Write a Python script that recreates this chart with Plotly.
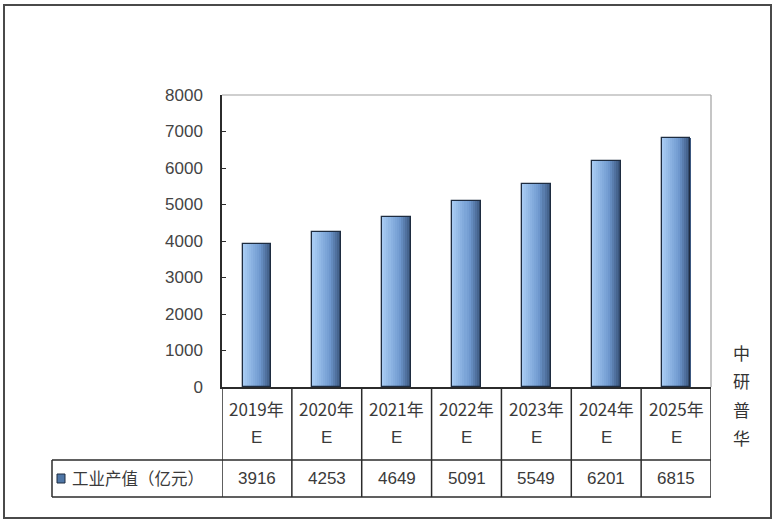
import plotly.graph_objects as go

# data
years = ["2019年", "2020年", "2021年", "2022年", "2023年", "2024年", "2025年"]
suffix = ["E", "E", "E", "E", "E", "E", "E"]
output_value = [3916, 4253, 4649, 5091, 5549, 6201, 6815]
series_name = "工业产值（亿元）"
watermark = ["中", "研", "普", "华"]

FONT = "Liberation Sans, Arial, Noto Sans CJK SC, sans-serif"
CJK = "Noto Sans CJK SC, Liberation Sans, sans-serif"

# plot area in pixels (for converting table positions to paper coords)
L, T, R, B = 222, 95, 711, 387
PW, PH = R - L, B - T


def px_x(x):
    return (x - L) / PW


def px_y(y):
    return (B - y) / PH


def mix(c1, c2, t):
    return "#%02x%02x%02x" % tuple(round(a + (b - a) * t) for a, b in zip(c1, c2))


x_pos = list(range(len(years)))
fig = go.Figure()

# gradient bars: thin slices from light (left) to dark (right)
bar_w = 0.41
n_slices = 14
light, mid, dark = (166, 202, 242), (112, 154, 208), (60, 88, 128)
for k in range(n_slices):
    t = k / (n_slices - 1)
    col = mix(light, mid, t / 0.6) if t < 0.6 else mix(mid, dark, (t - 0.6) / 0.4)
    fig.add_trace(go.Bar(
        x=x_pos, y=output_value,
        width=bar_w / n_slices + 0.002,
        offset=-bar_w / 2 + k * bar_w / n_slices,
        marker=dict(color=col, line=dict(width=0)),
        showlegend=False, hoverinfo="skip"
    ))

# outline
fig.add_trace(go.Bar(
    x=x_pos, y=output_value, width=bar_w, offset=-bar_w / 2,
    marker=dict(color="rgba(0,0,0,0)", line=dict(color="#1e2c40", width=1.3)),
    name=series_name, showlegend=False,
    hovertemplate="%{y}<extra></extra>"
))

shapes = []
line_c = "#2b2b2b"
# outer frame
shapes.append(dict(type="rect", xref="paper", yref="paper",
                   x0=px_x(4), x1=px_x(771), y0=px_y(518), y1=px_y(5),
                   line=dict(color="#4a4a4a", width=2)))
# plot area top / right border (gray)
shapes.append(dict(type="line", xref="paper", yref="paper", x0=0, x1=1, y0=1, y1=1,
                   line=dict(color="#a0a0a0", width=1.2)))
shapes.append(dict(type="line", xref="paper", yref="paper", x0=1, x1=1, y0=0, y1=1,
                   line=dict(color="#a0a0a0", width=1.2)))
# table vertical lines
for i in range(len(years) + 1):
    shapes.append(dict(type="line", xref="x", yref="paper", x0=i - 0.5, x1=i - 0.5,
                       y0=0, y1=px_y(497), line=dict(color=line_c, width=1.5)))
# table horizontal lines
for yy in (460, 497):
    shapes.append(dict(type="line", xref="paper", yref="paper", x0=px_x(52), x1=1,
                       y0=px_y(yy), y1=px_y(yy), line=dict(color=line_c, width=1.5)))
shapes.append(dict(type="line", xref="paper", yref="paper", x0=px_x(52), x1=px_x(52),
                   y0=px_y(460), y1=px_y(497), line=dict(color=line_c, width=1.5)))
# legend key
shapes.append(dict(type="rect", xref="paper", yref="paper",
                   x0=px_x(57), x1=px_x(65), y0=px_y(483), y1=px_y(474),
                   fillcolor="#4f76a6", line=dict(color="#1e2c40", width=1)))

txt = dict(showarrow=False, xanchor="center", yanchor="middle")
ann = []
for i, (yr, sf, v) in enumerate(zip(years, suffix, output_value)):
    ann.append(dict(x=i, y=px_y(408), xref="x", yref="paper", text=yr,
                    font=dict(family=CJK, size=17, color="#3a3a3a"), **txt))
    ann.append(dict(x=i, y=px_y(437), xref="x", yref="paper", text=sf,
                    font=dict(family=FONT, size=17, color="#3a3a3a"), **txt))
    ann.append(dict(x=i, y=px_y(478), xref="x", yref="paper", text=str(v),
                    font=dict(family=FONT, size=17, color="#3a3a3a"), **txt))
ann.append(dict(x=px_x(70), y=px_y(478), xref="paper", yref="paper", text=series_name,
                xanchor="left", yanchor="middle", showarrow=False,
                font=dict(family=CJK, size=16.5, color="#3a3a3a")))
for j, ch in enumerate(watermark):
    ann.append(dict(x=px_x(741), y=px_y(352 + j * 28.5), xref="paper", yref="paper",
                    text=ch, font=dict(family=CJK, size=17, color="#333333"), **txt))

fig.update_layout(
    width=775, height=523,
    margin=dict(l=L, r=775 - R, t=T, b=523 - B),
    paper_bgcolor="white", plot_bgcolor="white",
    barmode="overlay", bargap=0,
    showlegend=False,
    xaxis=dict(range=[-0.5, len(years) - 0.5], showticklabels=False, showgrid=False,
               zeroline=False, showline=True, linecolor=line_c, linewidth=1.5, ticks=""),
    yaxis=dict(range=[0, 8000], dtick=1000, showgrid=False, zeroline=False,
               showline=True, linecolor=line_c, linewidth=1.5,
               ticks="inside", ticklen=4, tickcolor=line_c,
               tickfont=dict(family=FONT, size=17, color="#444444"),
               ticklabelstandoff=14),
    shapes=shapes, annotations=ann,
)

fig.write_html("out.html", config={"displayModeBar": False},
               post_script="document.body.style.margin='0';")
